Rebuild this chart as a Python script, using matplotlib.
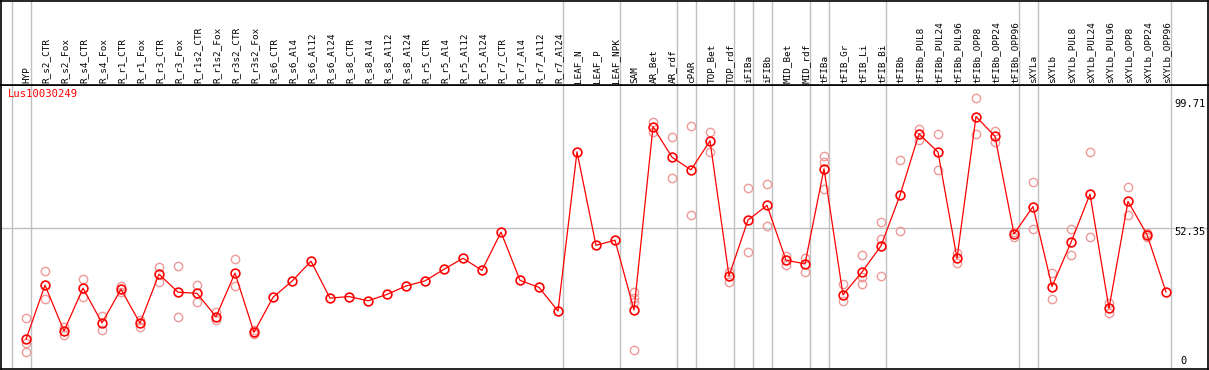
import matplotlib
matplotlib.use("Agg")
import matplotlib.pyplot as plt
import matplotlib.transforms as mtransforms

# sample names, left to right
samples = [
    "HYP", "R_s2_CTR", "R_s2_Fox", "R_s4_CTR", "R_s4_Fox", "R_r1_CTR", "R_r1_Fox",
    "R_r3_CTR", "R_r3_Fox", "R_r1s2_CTR", "R_r1s2_Fox", "R_r3s2_CTR", "R_r3s2_Fox",
    "R_s6_CTR", "R_s6_Al4", "R_s6_Al12", "R_s6_Al24", "R_s8_CTR", "R_s8_Al4",
    "R_s8_Al12", "R_s8_Al24", "R_r5_CTR", "R_r5_Al4", "R_r5_Al12", "R_r5_Al24",
    "R_r7_CTR", "R_r7_Al4", "R_r7_Al12", "R_r7_Al24", "LEAF_N", "LEAF_P", "LEAF_NPK",
    "SAM", "AR_Bet", "AR_rdf", "cPAR", "TOP_Bet", "TOP_rdf", "iFIBa", "iFIBb",
    "MID_Bet", "MID_rdf", "tFIBa", "tFIB_Gr", "tFIB_Li", "tFIB_Bi", "tFIBb",
    "tFIBb_PUL8", "tFIBb_PUL24", "tFIBb_PUL96", "tFIBb_OPP8", "tFIBb_OPP24",
    "tFIBb_OPP96", "sXYLa", "sXYLb", "sXYLb_PUL8", "sXYLb_PUL24", "sXYLb_PUL96",
    "sXYLb_OPP8", "sXYLb_OPP24", "sXYLb_OPP96",
]

# mean expression per sample
means = [
    11.0, 31.1, 14.1, 30.0, 17.1, 29.6, 17.0, 35.2, 28.5, 28.1, 19.4, 35.6, 13.6,
    26.6, 32.6, 40.0, 26.3, 26.9, 25.3, 27.7, 30.8, 32.7, 37.0, 41.1, 36.6,
    50.8, 32.9, 30.3, 21.5, 80.6, 45.9, 47.8,
    21.9, 89.9, 78.6, 73.9, 84.7, 34.5, 55.3, 60.7, 40.4, 39.0, 74.3, 27.5, 36.0,
    45.7, 64.5, 87.3, 80.5, 41.1, 93.7, 86.3, 50.1, 60.3, 30.6, 47.0, 64.9, 22.5,
    62.2, 49.9, 28.6,
]

# individual replicates per sample
replicates = [
    [18.8, 9.5, 6.2], [36.3, 25.9], [15.7, 12.6], [33.3, 26.6], [19.7, 14.5],
    [30.9, 28.6], [18.2, 15.7], [37.9, 32.2], [38.2, 19.2], [31.2, 24.9],
    [21.3, 18.2], [40.8, 30.8], [13.0, 14.5],
    [], [], [], [], [], [], [], [], [], [], [], [], [], [], [], [], [], [], [],
    [28.5, 26.5, 25.0, 7.1], [91.7, 88.0], [86.1, 70.8], [90.2, 57.1],
    [88.0, 80.7], [36.1, 32.4], [67.2, 43.3], [68.6, 53.0], [42.1, 38.6],
    [41.3, 36.1], [79.1, 76.9, 66.7], [31.6, 25.3], [42.3, 34.3, 31.5],
    [54.5, 48.3, 34.5], [77.6, 51.2], [89.0, 85.0], [87.2, 73.9], [43.0, 39.2],
    [100.5, 87.2], [88.4, 84.4], [51.0, 49.1], [69.3, 51.9], [35.6, 25.9],
    [51.9, 42.2], [80.5, 49.0], [24.4, 20.9], [67.5, 57.1], [50.6, 49.1], [],
]

# group separators (after these sample indices)
group_ends = [-1, 0, 28, 31, 34, 35, 37, 38, 39, 41, 42, 45, 52, 53, 60]

gene = "Lus10030249"
ytick_vals = [99.71, 52.35, 0]

W, H = 1209, 370
fig = plt.figure(figsize=(W / 100, H / 100), dpi=100)

x = list(range(len(samples)))
xlim = ((1 - 26) / 19, (1207.7 - 26) / 19)

# main plot area
ax = fig.add_axes([1 / W, 1 / H, 1206.7 / W, 284 / H])
ax.set_xlim(*xlim)
ax.set_ylim(0, 105.4)

# header with labels
hx = fig.add_axes([1 / W, 285 / H, 1206.7 / W, 84.5 / H], sharex=ax)
hx.set_ylim(0, 1)

for a in (ax, hx):
    a.set_xticks([])
    a.set_yticks([])
    for s in a.spines.values():
        s.set_color("black")
        s.set_linewidth(1.2)
    for g in group_ends:
        a.axvline(g + 0.25, color="#c0c0c0", lw=1, zorder=0)

ax.axhline(52.35, color="#c0c0c0", lw=1, zorder=0)

for i, name in enumerate(samples):
    hx.text(i + 0.05, 0.02, name, rotation=90, ha="center", va="bottom",
            fontsize=6.7, family="DejaVu Sans Mono")

# replicates
for i, reps in enumerate(replicates):
    if reps:
        ax.plot([i] * len(reps), reps, "o", ms=6.0, mfc="none", mec="#ee9a9a",
                mew=1.0, zorder=2)

ax.plot(x, means, "-", color="red", lw=0.9, zorder=3)
ax.plot(x, means, "o", ms=6.3, mfc="none", mec="red", mew=1.2, zorder=4)

ax.text(0.006, 0.985, gene, transform=ax.transAxes, color="red",
        fontsize=7.6, family="DejaVu Sans Mono", ha="left", va="top")

tx = (1174 - 26) / 19
for v in ytick_vals:
    if v == 0:
        tr = mtransforms.offset_copy(ax.transData, fig=fig, x=6, y=3, units="dots")
        va = "bottom"
    else:
        tr = mtransforms.offset_copy(ax.transData, fig=fig, y=-4, units="dots")
        va = "center"
    ax.text(tx, v, f"{v:g}", transform=tr, fontsize=7.5, ha="left", va=va,
            family="DejaVu Sans Mono")

fig.savefig("out.png", dpi=100)
